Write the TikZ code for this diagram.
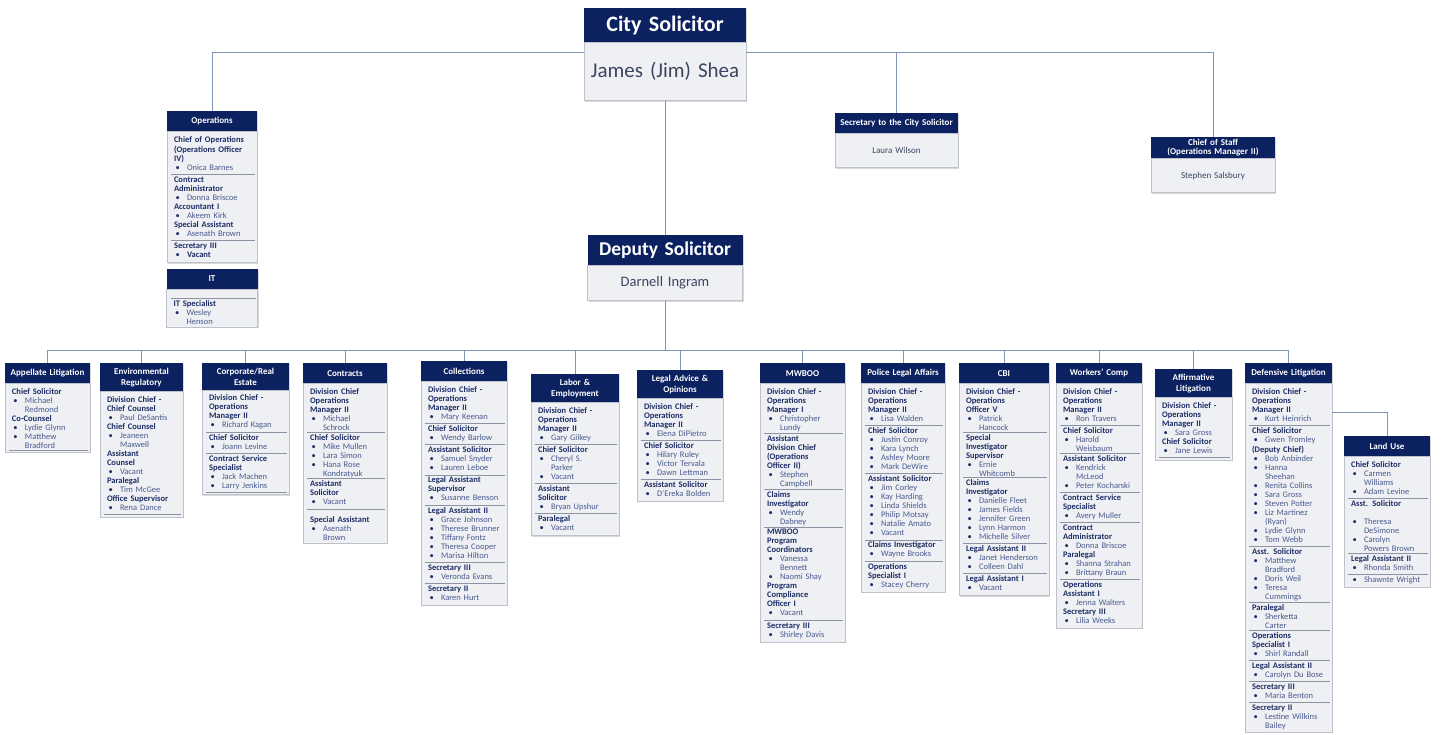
\documentclass[tikz,border=0pt]{standalone}
\usepackage{fontspec}
\setmainfont{Carlito}
\usetikzlibrary{positioning,shadows}
\definecolor{navy}{HTML}{0C2160}
\definecolor{rolecol}{HTML}{1E2E66}
\definecolor{namecol}{HTML}{4A5A8E}
\definecolor{panel}{HTML}{EEF0F4}
\definecolor{rim}{HTML}{BCC1CA}
\definecolor{sepcol}{HTML}{8C93A3}
\definecolor{linkcol}{HTML}{8193B5}
\definecolor{topname}{HTML}{3A455F}
\newcommand{\rolename}[1]{\par\leftskip=7pt\noindent\strut\textcolor{rolecol}{\bfseries #1}}
\newcommand{\member}[1]{\par\leftskip=7pt\hangindent=13pt\hangafter=1\noindent\strut
  \makebox[13pt][l]{\hspace{1.5pt}\textcolor{rolecol}{\textbullet}}\textcolor{namecol}{#1}}
\newcommand{\divider}{\par\nointerlineskip\vskip1pt
  \hbox to\hsize{\hskip4pt\color{sepcol}\leaders\hrule height .6pt\hfill\hskip2pt}\prevdepth=1.2pt}
\tikzset{
  boxshadow/.style = {drop shadow={shadow xshift=1.2pt, shadow yshift=-1.2pt,
                      opacity=.25, fill=black!60}},
  tophead/.style   = {fill=navy, text=white, align=center, inner xsep=0pt,
                      inner ysep=0pt, anchor=north, boxshadow},
  topbody/.style   = {fill=panel, draw=rim, line width=.4pt, text=topname,
                      align=center, inner xsep=0pt, inner ysep=0pt, boxshadow},
  unithead/.style  = {fill=navy, text=white, font=\bfseries\fontsize{9}{11}\selectfont,
                      align=center, text width=#1, inner xsep=0pt, inner ysep=4.5pt,
                      minimum height=20pt, anchor=north, boxshadow},
  unitbody/.style  = {fill=panel, draw=rim, line width=.4pt, text width=#1,
                      inner xsep=0pt, inner ysep=2pt, align=left,
                      font=\fontsize{8.5}{9}\selectfont, boxshadow},
  link/.style      = {draw=linkcol, line width=.8pt}
}
\begin{document}
\begin{tikzpicture}[x=1pt, y=1pt]
  \useasboundingbox (0,0) rectangle (1443,-734);

  % top of the office
  \node[tophead, text width=162pt, minimum height=34pt,
        font=\bfseries\fontsize{22}{25}\selectfont] (city-h) at (665,-8) {City Solicitor};
  \node[topbody, text width=162pt, minimum height=58pt,
        font=\fontsize{21}{24}\selectfont, below=0pt of city-h] (city-b) {James (Jim) Shea};

  \node[tophead, text width=123pt, minimum height=20pt,
        font=\bfseries\fontsize{9}{10}\selectfont] (sec-h) at (896.5,-113) {Secretary to the City Solicitor};
  \node[topbody, text width=123pt, minimum height=34pt,
        font=\fontsize{9}{10}\selectfont, below=0pt of sec-h] (sec-b) {Laura Wilson};

  \node[tophead, text width=124pt, minimum height=21pt,
        font=\bfseries\fontsize{9}{9}\selectfont] (staff-h) at (1213,-137) {Chief of Staff\\(Operations Manager II)};
  \node[topbody, text width=124pt, minimum height=34pt,
        font=\fontsize{9}{10}\selectfont, below=0pt of staff-h] (staff-b) {Stephen Salsbury};

  \node[tophead, text width=155pt, minimum height=30pt,
        font=\bfseries\fontsize{19.5}{22}\selectfont] (deputy-h) at (665,-235) {Deputy Solicitor};
  \node[topbody, text width=155pt, minimum height=35pt,
        font=\fontsize{14.5}{17}\selectfont, below=0pt of deputy-h] (deputy-b) {Darnell Ingram};

  % operations and IT
  \node[unithead=90pt] (ops-h) at (212,-111) {Operations};
  \node[unitbody=90pt, below=0pt of ops-h] (ops-b) {
    \rolename{Chief of Operations\newline (Operations Officer\newline IV)}
    \member{Onica Barnes}
    \divider
    \rolename{Contract\newline Administrator}
    \member{Donna Briscoe}
    \rolename{Accountant I}
    \member{Akeem Kirk}
    \rolename{Special Assistant}
    \member{Asenath Brown}
    \divider
    \rolename{Secretary III}
    \member{\textcolor{rolecol}{\bfseries Vacant}}\par};
  \node[unithead=91pt, below=6pt of ops-b] (it-h) {IT};
  \node[unitbody=91pt, below=0pt of it-h] (it-b) {
    \par\vskip6pt\divider
    \rolename{IT Specialist}
    \member{Wesley\newline Henson}\par};

  % divisions
  \node[unithead=85pt] (appellate-h) at (47.5,-363) {Appellate Litigation};
  \node[unitbody=85pt, below=0pt of appellate-h] (appellate-b) {
    \rolename{Chief Solicitor}
    \member{Michael\newline Redmond}
    \rolename{Co-Counsel}
    \member{Lydie Glynn}
    \member{Matthew\newline Bradford}
    \divider};

  \node[unithead=83pt] (environmental-h) at (141.5,-363) {Environmental\\Regulatory};
  \node[unitbody=83pt, below=0pt of environmental-h] (environmental-b) {
    \rolename{Division Chief -\newline Chief Counsel}
    \member{Paul DeSantis}
    \rolename{Chief Counsel}
    \member{Jeaneen\newline Maxwell}
    \rolename{Assistant\newline Counsel}
    \member{Vacant}
    \rolename{Paralegal}
    \member{Tim McGee}
    \rolename{Office Supervisor}
    \member{Rena Dance}
    \divider};

  \node[unithead=87pt] (corporate-h) at (245.5,-363) {Corporate/Real\\Estate};
  \node[unitbody=87pt, below=0pt of corporate-h] (corporate-b) {
    \rolename{Division Chief -\newline Operations\newline Manager II}
    \member{Richard Kagan}
    \divider
    \rolename{Chief Solicitor}
    \member{Joann Levine}
    \divider
    \rolename{Contract Service\newline Specialist}
    \member{Jack Machen}
    \member{Larry Jenkins}
    \divider};

  \node[unithead=84pt] (contracts-h) at (345,-363) {Contracts};
  \node[unitbody=84pt, below=0pt of contracts-h] (contracts-b) {
    \rolename{Division Chief\newline Operations\newline Manager II}
    \member{Michael\newline Schrock}
    \divider
    \rolename{Chief Solicitor}
    \member{Mike Mullen}
    \member{Lara Simon}
    \member{Hana Rose\newline Kondratyuk}
    \divider
    \rolename{Assistant\newline Solicitor}
    \member{Vacant}
    \divider\vskip6pt
    \rolename{Special Assistant}
    \member{Asenath\newline Brown}\par};

  \node[unithead=86pt] (collections-h) at (464,-361) {Collections};
  \node[unitbody=86pt, below=0pt of collections-h] (collections-b) {
    \rolename{Division Chief -\newline Operations\newline Manager II}
    \member{Mary Keenan}
    \divider
    \rolename{Chief Solicitor}
    \member{Wendy Barlow}
    \divider
    \rolename{Assistant Solicitor}
    \member{Samuel Snyder}
    \member{Lauren Leboe}
    \divider
    \rolename{Legal Assistant\newline Supervisor}
    \member{Susanne Benson}
    \divider
    \rolename{Legal Assistant II}
    \member{Grace Johnson}
    \member{Therese Brunner}
    \member{Tiffany Fontz}
    \member{Theresa Cooper}
    \member{Marisa Hilton}
    \divider
    \rolename{Secretary III}
    \member{Veronda Evans}
    \divider
    \rolename{Secretary II}
    \member{Karen Hurt}\par};

  \node[unithead=88pt] (labor-h) at (575,-374) {Labor \&\\Employment};
  \node[unitbody=88pt, below=0pt of labor-h] (labor-b) {
    \rolename{Division Chief -\newline Operations\newline Manager II}
    \member{Gary Gilkey}
    \divider
    \rolename{Chief Solicitor}
    \member{Cheryl S.\newline Parker}
    \member{Vacant}
    \divider
    \rolename{Assistant\newline Solicitor}
    \member{Bryan Upshur}
    \divider
    \rolename{Paralegal}
    \member{Vacant}\par};

  \node[unithead=86pt] (legal-h) at (680,-370) {Legal Advice \&\\Opinions};
  \node[unitbody=86pt, below=0pt of legal-h] (legal-b) {
    \rolename{Division Chief -\newline Operations\newline Manager II}
    \member{Elena DiPietro}
    \divider
    \rolename{Chief Solicitor}
    \member{Hilary Ruley}
    \member{Victor Tervala}
    \member{Dawn Lettman}
    \divider
    \rolename{Assistant Solicitor}
    \member{D'Ereka Bolden}\par};

  \node[unithead=85pt] (mwboo-h) at (802.5,-363) {MWBOO};
  \node[unitbody=85pt, below=0pt of mwboo-h] (mwboo-b) {
    \rolename{Division Chief -\newline Operations\newline Manager I}
    \member{Christopher\newline Lundy}
    \divider
    \rolename{Assistant\newline Division Chief\newline (Operations\newline Officer II)}
    \member{Stephen\newline Campbell}
    \divider
    \rolename{Claims\newline Investigator}
    \member{Wendy\newline Dabney}
    \divider
    \rolename{MWBOO\newline Program\newline Coordinators}
    \member{Vanessa\newline Bennett}
    \member{Naomi Shay}
    \rolename{Program\newline Compliance\newline Officer I}
    \member{Vacant}
    \divider
    \rolename{Secretary III}
    \member{Shirley Davis}\par};

  \node[unithead=84pt] (police-h) at (903,-363) {Police Legal Affairs};
  \node[unitbody=84pt, below=0pt of police-h] (police-b) {
    \rolename{Division Chief -\newline Operations\newline Manager II}
    \member{Lisa Walden}
    \divider
    \rolename{Chief Solicitor}
    \member{Justin Conroy}
    \member{Kara Lynch}
    \member{Ashley Moore}
    \member{Mark DeWire}
    \divider
    \rolename{Assistant Solicitor}
    \member{Jim Corley}
    \member{Kay Harding}
    \member{Linda Shields}
    \member{Philip Motsay}
    \member{Natalie Amato}
    \member{Vacant}
    \divider
    \rolename{Claims Investigator}
    \member{Wayne Brooks}
    \divider
    \rolename{Operations\newline Specialist I}
    \member{Stacey Cherry}\par};

  \node[unithead=90pt] (cbi-h) at (1004,-363) {CBI};
  \node[unitbody=90pt, below=0pt of cbi-h] (cbi-b) {
    \rolename{Division Chief -\newline Operations\newline Officer V}
    \member{Patrick\newline Hancock}
    \divider
    \rolename{Special\newline Investigator\newline Supervisor}
    \member{Ernie\newline Whitcomb}
    \divider
    \rolename{Claims\newline Investigator}
    \member{Danielle Fleet}
    \member{James Fields}
    \member{Jennifer Green}
    \member{Lynn Harmon}
    \member{Michelle Silver}
    \divider
    \rolename{Legal Assistant II}
    \member{Janet Henderson}
    \member{Colleen Dahl}
    \divider
    \rolename{Legal Assistant I}
    \member{Vacant}\par};

  \node[unithead=86pt] (workers-h) at (1099,-363) {Workers' Comp};
  \node[unitbody=86pt, below=0pt of workers-h] (workers-b) {
    \rolename{Division Chief -\newline Operations\newline Manager II}
    \member{Ron Travers}
    \divider
    \rolename{Chief Solicitor}
    \member{Harold\newline Weisbaum}
    \divider
    \rolename{Assistant Solicitor}
    \member{Kendrick\newline McLeod}
    \member{Peter Kocharski}
    \divider
    \rolename{Contract Service\newline Specialist}
    \member{Avery Muller}
    \divider
    \rolename{Contract\newline Administrator}
    \member{Donna Briscoe}
    \rolename{Paralegal}
    \member{Shanna Strahan}
    \member{Brittany Braun}
    \divider
    \rolename{Operations\newline Assistant I}
    \member{Jenna Walters}
    \rolename{Secretary III}
    \member{Lilia Weeks}\par};

  \node[unithead=77pt] (affirmative-h) at (1193.5,-369) {Affirmative\\Litigation};
  \node[unitbody=77pt, below=0pt of affirmative-h] (affirmative-b) {
    \rolename{Division Chief -\newline Operations\newline Manager II}
    \member{Sara Gross}
    \rolename{Chief Solicitor}
    \member{Jane Lewis}
    \divider};

  \node[unithead=87pt] (defensive-h) at (1288.5,-363) {Defensive Litigation};
  \node[unitbody=87pt, below=0pt of defensive-h] (defensive-b) {
    \rolename{Division Chief -\newline Operations\newline Manager II}
    \member{Kurt Heinrich}
    \divider
    \rolename{Chief Solicitor}
    \member{Gwen Tromley}
    \rolename{(Deputy Chief)}
    \member{Bob Anbinder}
    \member{Hanna\newline Sheehan}
    \member{Renita Collins}
    \member{Sara Gross}
    \member{Steven Potter}
    \member{Liz Martinez\newline (Ryan)}
    \member{Lydie Glynn}
    \member{Tom Webb}
    \divider
    \rolename{Asst. Solicitor}
    \member{Matthew\newline Bradford}
    \member{Doris Weil}
    \member{Teresa\newline Cummings}
    \divider
    \rolename{Paralegal}
    \member{Sherketta\newline Carter}
    \divider
    \rolename{Operations\newline Specialist I}
    \member{Shirl Randall}
    \divider
    \rolename{Legal Assistant II}
    \member{Carolyn Du Bose}
    \divider
    \rolename{Secretary III}
    \member{Maria Benton}
    \divider
    \rolename{Secretary II}
    \member{Lestine Wilkins\newline Bailey}\par};

  \node[unithead=86pt] (landuse-h) at (1387,-436) {Land Use};
  \node[unitbody=86pt, below=0pt of landuse-h] (landuse-b) {
    \rolename{Chief Solicitor}
    \member{Carmen\newline Williams}
    \member{Adam Levine}
    \divider
    \rolename{Asst. Solicitor}
    \par\vskip9pt
    \member{Theresa\newline DeSimone}
    \member{Carolyn\newline Powers Brown}
    \divider
    \rolename{Legal Assistant II}
    \member{Rhonda Smith}
    \divider
    \member{Shawnte Wright}\par};

  % connectors
  \coordinate (topbar) at (0,-52);
  \coordinate (bus) at (0,-350);
  \coordinate (luknee) at (0,-412);
  \draw[link] (city-b.west |- topbar) -| (ops-h.north);
  \draw[link] (city-b.east |- topbar) -| (staff-h.north);
  \draw[link] (sec-h.north |- topbar) -- (sec-h.north);
  \draw[link] (city-b.south) -- (deputy-h.north);
  \draw[link] (deputy-b.south) -- (deputy-b.south |- bus);
  \draw[link] (appellate-h.north |- bus) -- (defensive-h.north |- bus);
  \foreach \u in {appellate, environmental, corporate, contracts, collections, labor,
                  legal, mwboo, police, cbi, workers, affirmative, defensive}
    \draw[link] (\u-h.north |- bus) -- (\u-h.north);
  \draw[link] (defensive-b.east |- luknee) -| (landuse-h.north);
\end{tikzpicture}
\end{document}
